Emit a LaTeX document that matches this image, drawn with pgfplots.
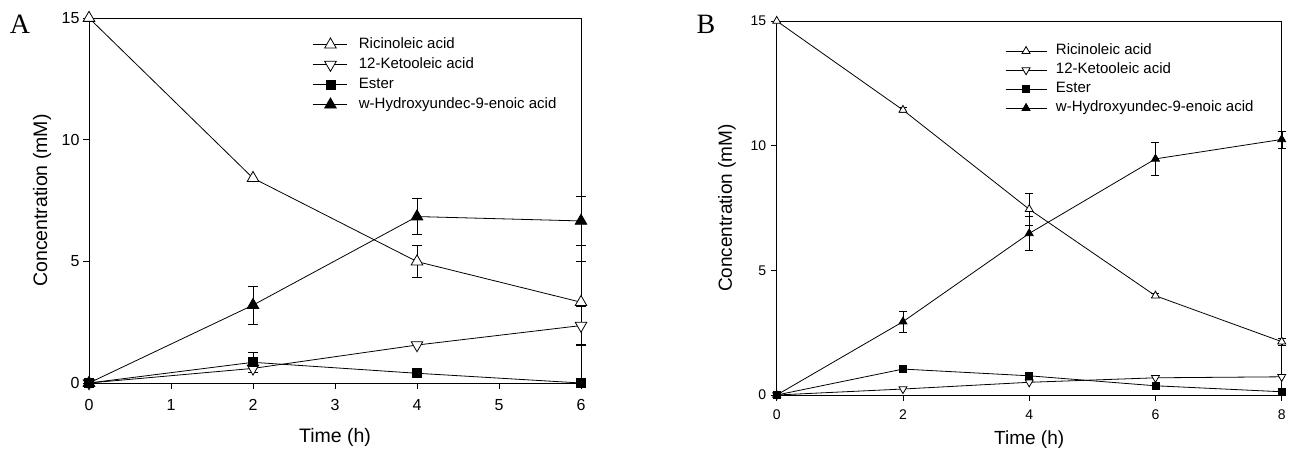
\documentclass[border=0pt]{standalone}
\usepackage{pgfplots}
\pgfplotsset{compat=1.18}
\usepackage{fontspec}
\setmainfont{Liberation Sans}
\newfontfamily\seriffont{Liberation Serif}

\pgfplotsset{
  kin/.style={
    scale only axis, clip=false,
    axis line style={line width=0.9pt},
    tick align=outside, xtick pos=bottom, ytick pos=left,
    major tick length=6pt,
    tick style={line width=0.9pt, black},
    /pgf/number format/assume math mode=true,
    ymin=0, ymax=15, ytick={0,5,10,15},
    every axis y label/.style={rotate=90, anchor=center},
    legend style={draw=none, fill=none, inner sep=0pt, anchor=north west,
      font=\fontsize{15}{15}\selectfont, row sep=5pt,
      nodes={inner sep=0pt, text height=11pt, text depth=4pt}},
    legend cell align=left,
  },
  limg/.style={legend image code/.code={
      \draw[mark repeat=2,mark phase=2,##1] plot coordinates {(0pt,0pt) (#1/2,0pt) (#1,0pt)};}},
  ric/.style={black, line width=0.8pt, mark=triangle*, mark size=#1, mark options={fill=white, solid}},
  keto/.style={black, line width=0.8pt, mark=triangle*, mark size=#1, mark options={fill=white, rotate=180, solid}},
  ester/.style={black, line width=0.8pt, mark=square*, mark size=#1, mark options={fill=black, solid}},
  hyd/.style={black, line width=0.8pt, mark=triangle*, mark size=#1, mark options={fill=black, solid}},
  err/.style={black, line width=0.8pt, only marks, mark=none, forget plot,
    error bars/.cd, y dir=both, y explicit,
    error mark options={black, mark size=#1, line width=0.8pt, rotate=90}},
}

\begin{document}
\begin{tikzpicture}[x=1pt,y=1pt]
\useasboundingbox (0,0) rectangle (1293,448);
\node[font=\seriffont\fontsize{28}{28}\selectfont] at (20,424) {A};
\node[font=\seriffont\fontsize{28}{28}\selectfont] at (706,424) {B};

% ---- panel A
\begin{axis}[kin, limg=34pt,
    at={(89pt,65pt)}, anchor=south west, width=492pt, height=365pt,
    xmin=0, xmax=6, xtick={0,1,2,3,4,5,6},
    ticklabel style={font=\fontsize{16}{16}\selectfont},
    xticklabel style={yshift=-7pt},
    xlabel={Time (h)}, ylabel={Concentration (mM)},
    every axis x label/.style={at={(axis description cs:0.5,-0.148)}, anchor=center, font=\fontsize{19.5}{19.5}\selectfont},
    every axis y label/.append style={at={(axis description cs:-0.0955,0.5)}, font=\fontsize{19.5}{19.5}\selectfont},
    legend style={at={(0.455,0.948)}, column sep=11pt},
]
\addplot[err=5pt] table[x=t, y=c, y error=e] {
t c e
4 5.0 0.65
6 3.3 1.7
};
\addplot[err=5pt] table[x=t, y=c, y error=e] {
t c e
6 2.36 0.8
};
\addplot[err=5pt] table[x=t, y=c, y error=e] {
t c e
2 0.85 0.4
};
\addplot[err=5pt] table[x=t, y=c, y error=e] {
t c e
2 3.2 0.78
4 6.84 0.73
6 6.66 1.0
};
\addplot[ric=6.7pt] coordinates {(0,15) (2,8.42) (4,4.99) (6,3.32)};
\addplot[keto=6.7pt] coordinates {(0,0) (2,0.6) (4,1.56) (6,2.36)};
\addplot[ester=4.5pt] coordinates {(0,0) (2,0.85) (4,0.4) (6,0)};
\addplot[hyd=6.7pt] coordinates {(0,0) (2,3.2) (4,6.84) (6,6.66)};
\legend{Ricinoleic acid, 12-Ketooleic acid, Ester, w-Hydroxyundec-9-enoic acid}
\end{axis}

% ---- panel B
\begin{axis}[kin, limg=41pt,
    at={(776.7pt,53pt)}, anchor=south west, width=505pt, height=374pt,
    xmin=0, xmax=8, xtick={0,2,4,6,8},
    ticklabel style={font=\fontsize{14}{14}\selectfont},
    xticklabel style={yshift=-5pt},
    yticklabel style={xshift=-1pt},
    xlabel={Time (h)}, ylabel={Concentration (mM)},
    every axis x label/.style={at={(axis description cs:0.5,-0.12)}, anchor=center, font=\fontsize{19}{19}\selectfont},
    every axis y label/.append style={at={(axis description cs:-0.0984,0.5)}, font=\fontsize{19}{19}\selectfont},
    legend style={at={(0.452,0.94)}, column sep=9pt, row sep=4pt},
]
\addplot[err=4pt] table[x=t, y=c, y error=e] {
t c e
2 11.43 0.1
4 7.45 0.63
6 3.98 0.08
8 2.14 0.15
};
\addplot[err=4pt] table[x=t, y=c, y error=e] {
t c e
2 2.94 0.42
4 6.48 0.69
6 9.47 0.66
8 10.25 0.34
};
\addplot[ric=4.6pt] coordinates {(0,15) (2,11.43) (4,7.45) (6,3.98) (8,2.14)};
\addplot[keto=4.6pt] coordinates {(0,0) (2,0.24) (4,0.51) (6,0.69) (8,0.73)};
\addplot[ester=3.5pt] coordinates {(0,0) (2,1.04) (4,0.77) (6,0.37) (8,0.13)};
\addplot[hyd=4.6pt] coordinates {(0,0) (2,2.94) (4,6.48) (6,9.47) (8,10.25)};
\legend{Ricinoleic acid, 12-Ketooleic acid, Ester, w-Hydroxyundec-9-enoic acid}
\end{axis}
\end{tikzpicture}
\end{document}
